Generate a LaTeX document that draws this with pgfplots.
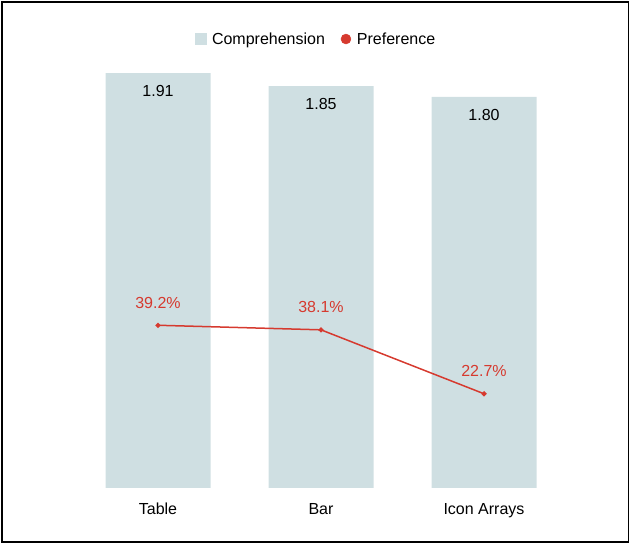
\documentclass[border=0pt]{standalone}
\usepackage{pgfplots}
\pgfplotsset{compat=1.18}
\usepackage{fontspec}
\setmainfont{Liberation Sans}

\definecolor{barcol}{HTML}{CFDFE2}
\definecolor{linecol}{HTML}{D63A2F}

\begin{document}
\begin{tikzpicture}[font=\fontsize{16}{19}\selectfont]
\useasboundingbox (0,0) rectangle (632pt,548pt);
\draw[line width=1.6pt] (2pt,6pt) rectangle (628.5pt,546pt);

% bars: comprehension
\begin{axis}[
    at={(76.5pt,60pt)}, anchor=south west,
    scale only axis, width=489pt, height=428pt,
    xmin=-0.5, xmax=2.5, ymin=0, ymax=1.970,
    axis line style={draw=none}, tick style={draw=none},
    ytick=\empty,
    xtick=data, xticklabels={Table, Bar, Icon Arrays},
    xticklabel style={yshift=-7pt, text height=12pt, text depth=4pt},
    ybar, bar width=105pt,
    /pgf/number format/assume math mode=true,
    /pgf/number format/.cd, fixed, fixed zerofill, precision=2,
]
\addplot[fill=barcol, draw=none,
    nodes near coords,
    every node near coord/.append style={anchor=north, yshift=-9pt, black}]
    coordinates {(0,1.91) (1,1.85) (2,1.80)};
\end{axis}

% line: preference (%)
\begin{axis}[
    at={(76.5pt,60pt)}, anchor=south west,
    scale only axis, width=489pt, height=428pt,
    xmin=-0.5, xmax=2.5, ymin=0, ymax=103.1,
    axis line style={draw=none}, tick style={draw=none},
    xtick=\empty, ytick=\empty,
    /pgf/number format/assume math mode=true,
    legend columns=-1,
    legend style={at={(0.49,1.049)}, anchor=center, draw=none, fill=none,
        /tikz/every odd column/.append style={column sep=4pt},
        /tikz/every even column/.append style={column sep=14pt}},
    legend cell align=left,
]
\addlegendimage{only marks, mark=square*, mark size=5.5pt,
    mark options={fill=barcol, draw=barcol}}
\addlegendentry{Comprehension}
\addplot[linecol, line width=1.5pt, mark=*, mark size=1.7pt,
    nodes near coords={\pgfmathprintnumber[fixed,fixed zerofill,precision=1]{\pgfplotspointmeta}\%},
    every node near coord/.append style={anchor=south, yshift=13pt, text=linecol},
    forget plot]
    coordinates {(0,39.2) (1,38.1) (2,22.7)};
\addlegendimage{only marks, mark=*, mark size=5pt, linecol}
\addlegendentry{Preference}
\end{axis}
\end{tikzpicture}
\end{document}
